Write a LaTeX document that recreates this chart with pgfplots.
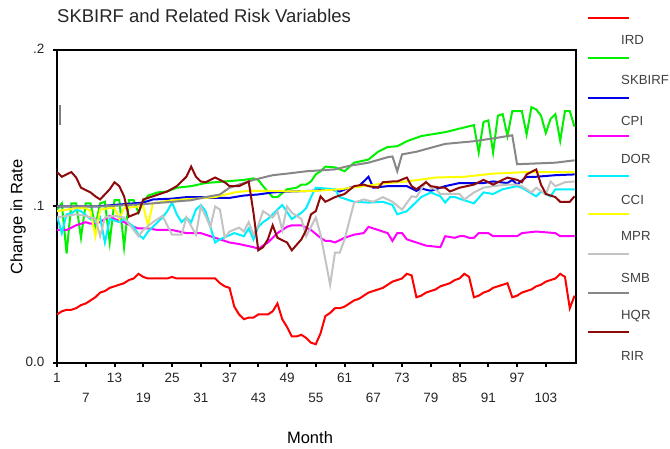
\documentclass[border=0pt]{standalone}
\usepackage{pgfplots}
\pgfplotsset{compat=1.18}
\usepackage{fontspec}
\setmainfont{Liberation Sans}
\definecolor{cIRD}{RGB}{255,0,0}
\definecolor{cSKB}{RGB}{0,240,0}
\definecolor{cCPI}{RGB}{0,0,230}
\definecolor{cDOR}{RGB}{255,0,255}
\definecolor{cCCI}{RGB}{0,240,255}
\definecolor{cMPR}{RGB}{255,255,0}
\definecolor{cSMB}{RGB}{195,195,195}
\definecolor{cHQR}{RGB}{135,135,135}
\definecolor{cRIR}{RGB}{140,10,10}

\begin{document}
\begin{tikzpicture}
\useasboundingbox (0,0) rectangle (670bp,449bp);
\begin{axis}[
    at={(57bp,86bp)}, anchor=south west,
    width=519bp, height=313bp, scale only axis,
    xmin=1, xmax=109.3, ymin=0, ymax=0.2,
    axis line style={line width=1.8bp},
    tick pos=left, tick align=outside,
    major tick length=4bp,
    every tick/.style={black, line width=2bp},
    xtick={1,13,25,37,49,61,73,85,97},
    xticklabels={1,13,25,37,49,61,73,85,97},
    extra x ticks={7,19,31,43,55,67,79,91,103},
    extra x tick labels={7,19,31,43,55,67,79,91,103},
    extra x tick style={xticklabel style={yshift=-20bp}},
    xticklabel style={yshift=-3bp},
    ytick={0,0.1,0.2},
    yticklabels={0.0,.1,.2},
    yticklabel style={xshift=-5bp, yshift=1bp},
    /pgf/number format/assume math mode=true,
    ticklabel style={font=\fontsize{13.5bp}{15bp}\selectfont, text=black!85},
    every axis plot/.append style={line width=2bp, mark=none},
]
% IRD
\addplot[cIRD] coordinates {
(1,.031)(2,.033)(3,.034)(4,.034)(5,.035)(6,.037)(7,.038)(8,.040)(9,.042)(10,.045)
(11,.046)(12,.048)(13,.049)(14,.050)(15,.051)(16,.053)(17,.054)(18,.057)(19,.055)(20,.054)
(21,.054)(22,.054)(23,.054)(24,.054)(25,.055)(26,.054)(27,.054)(28,.054)(29,.054)(30,.054)
(31,.054)(32,.054)(33,.054)(34,.054)(35,.051)(36,.049)(37,.048)(38,.036)(39,.031)(40,.028)
(41,.029)(42,.029)(43,.031)(44,.031)(45,.031)(46,.033)(47,.038)(48,.028)(49,.023)(50,.017)
(51,.017)(52,.018)(53,.016)(54,.013)(55,.012)(56,.019)(57,.030)(58,.032)(59,.035)(60,.035)
(61,.036)(62,.038)(63,.040)(64,.041)(65,.043)(66,.045)(67,.046)(68,.047)(69,.048)(70,.050)
(71,.052)(72,.053)(73,.054)(74,.057)(75,.056)(76,.042)(77,.043)(78,.045)(79,.046)(80,.047)
(81,.049)(82,.050)(83,.051)(84,.053)(85,.054)(86,.057)(87,.055)(88,.042)(89,.043)(90,.045)
(91,.046)(92,.048)(93,.049)(94,.050)(95,.051)(96,.042)(97,.043)(98,.045)(99,.046)(100,.047)
(101,.049)(102,.050)(103,.052)(104,.053)(105,.054)(106,.057)(107,.055)(108,.035)(109,.043)
};
% SKBIRF
\addplot[cSKB] coordinates {
(1,.098)(2,.102)(3,.070)(4,.102)(5,.102)(6,.080)(7,.102)(8,.102)(9,.087)(10,.102)
(11,.103)(12,.077)(13,.104)(14,.104)(15,.074)(16,.104)(17,.104)(18,.096)(19,.103)(20,.107)
(22,.109)(24,.1096)(26,.112)(29,.113)(32,.115)(36,.116)(40,.117)(42,.118)(43,.117)(44,.113)
(46,.106)(47,.106)(49,.111)(51,.112)(52,.114)(53,.114)(54,.116)(55,.1205)(56,.1225)(57,.1255)
(59,.125)(61,.1225)(63,.128)(66,.130)(68,.135)(70,.138)(72,.1385)(74,.1417)(77,.145)(79,.146)
(82,.1475)(84,.149)(86,.1505)(88,.152)(89,.1345)(90,.154)(91,.155)(92,.1345)(93,.158)(94,.159)
(95,.145)(96,.161)(98,.161)(99,.146)(100,.1635)(101,.162)(102,.158)(103,.147)(104,.156)(105,.159)
(106,.142)(107,.161)(108,.161)(109,.151)
};
% CPI
\addplot[cCPI] coordinates {
(1,.100)(9,.100)(13,.101)(19,.1025)(21,.1045)(25,.105)(28,.106)(31,.106)(33,.1055)(37,.1055)
(40,.107)(43,.1077)(46,.109)(49,.1095)(54,.110)(58,.111)(60,.1096)(62,.112)(64,.113)(66,.119)
(67,.112)(70,.113)(74,.113)(76,.110)(77,.1115)(79,.110)(82,.113)(85,.115)(90,.115)(92,.116)
(95,.115)(96,.117)(97,.114)(99,.119)(101,.119)(105,.120)(109,.1205)
};
% DOR
\addplot[cDOR] coordinates {
(1,.085)(3,.085)(5,.088)(7,.090)(8,.089)(10,.090)(12,.094)(13,.092)(15,.090)(17,.087)
(18,.086)(20,.086)(22,.085)(25,.085)(28,.083)(31,.083)(33,.081)(36,.078)(37,.077)(39,.076)
(42,.074)(43,.073)(44,.075)(45,.077)(47,.083)(49,.087)(50,.088)(52,.088)(54,.085)(56,.080)
(57,.078)(58,.078)(59,.077)(61,.080)(63,.082)(65,.083)(66,.087)(67,.086)(69,.084)(70,.083)
(71,.078)(72,.083)(73,.083)(74,.079)(76,.077)(78,.075)(81,.074)(82,.081)(84,.080)(85,.081)
(86,.081)(87,.080)(88,.080)(89,.083)(91,.083)(92,.081)(97,.081)(98,.083)(101,.084)(105,.083)
(106,.081)(109,.081)
};
% CCI
\addplot[cCCI] coordinates {
(1,.094)(2,.083)(3,.095)(4,.0955)(5,.098)(6,.097)(8,.092)(9,.090)(10,.093)(11,.077)
(12,.092)(13,.091)(14,.090)(15,.092)(17,.087)(18,.082)(19,.0795)(20,.084)(22,.090)(23,.093)
(24,.097)(25,.1025)(26,.095)(27,.090)(28,.093)(29,.090)(30,.098)(31,.101)(32,.097)(33,.087)
(34,.077)(35,.079)(38,.083)(40,.081)(41,.086)(42,.079)(43,.087)(44,.090)(45,.092)(46,.095)
(48,.101)(50,.092)(52,.096)(53,.099)(54,.106)(55,.112)(57,.1115)(59,.111)(60,.106)(63,.103)
(66,.1025)(69,.103)(71,.101)(72,.095)(74,.097)(75,.100)(77,.106)(79,.109)(81,.1065)(82,.1025)
(83,.106)(84,.106)(86,.104)(88,.102)(90,.109)(92,.108)(94,.111)(97,.113)(98,.112)(101,.1065)
(102,.1095)(104,.1065)(105,.111)(109,.111)
};
% MPR
\addplot[cMPR] coordinates {
(1,.097)(3,.098)(5,.099)(7,.099)(8,.097)(9,.081)(10,.098)(12,.099)(13,.099)(14,.092)
(15,.099)(18,.100)(19,.100)(20,.088)(21,.102)(25,.104)(30,.105)(34,.106)(38,.109)(41,.110)
(45,.110)(50,.1096)(55,.110)(60,.111)(65,.113)(70,.115)(74,.116)(80,.1185)(86,.119)(92,.121)
(99,.122)(109,.122)
};
% SMB
\addplot[cSMB] coordinates {
(1,.093)(3,.094)(5,.095)(7,.094)(9,.092)(10,.081)(11,.093)(13,.094)(15,.093)(18,.081)
(19,.085)(21,.090)(23,.094)(25,.082)(27,.082)(28,.093)(30,.082)(31,.100)(32,.094)(33,.087)
(34,.100)(35,.098)(36,.080)(37,.084)(39,.0865)(40,.084)(41,.090)(42,.082)(43,.088)(44,.097)
(45,.095)(46,.093)(47,.097)(48,.085)(49,.100)(50,.096)(51,.094)(52,.092)(53,.081)(55,.093)
(56,.082)(58,.050)(59,.0705)(60,.0705)(61,.079)(63,.1025)(65,.1045)(67,.103)(69,.106)(71,.103)
(73,.098)(75,.1065)(76,.106)(78,.116)(79,.112)(80,.111)(81,.108)(83,.108)(85,.108)(86,.1045)
(88,.109)(90,.112)(92,.113)(95,.114)(97,.114)(98,.113)(100,.109)(101,.112)(103,.1077)(104,.116)
(105,.113)(107,.1155)(109,.116)
};
% HQR
\addplot[cHQR] coordinates {
(1,.100)(10,.100)(19,.1015)(25,.103)(29,.104)(32,.106)(35,.1077)(37,.112)(42,.117)(46,.120)
(49,.121)(53,.1225)(59,.1237)(62,.126)(66,.128)(70,.1315)(71,.132)(72,.1225)(73,.1333)(76,.135)
(82,.140)(88,.1417)(92,.1435)(96,.1455)(97,.127)(101,.1275)(105,.128)(109,.1295)
};
% RIR
\addplot[cRIR] coordinates {
(1,.122)(2,.119)(4,.122)(5,.1185)(6,.112)(8,.109)(9,.1065)(10,.1045)(12,.111)(13,.1155)
(14,.113)(15,.1065)(16,.0935)(18,.096)(19,.1045)(21,.1065)(24,.1096)(26,.113)(28,.119)(29,.1255)
(30,.119)(31,.116)(32,.1155)(33,.117)(34,.1185)(36,.1155)(37,.113)(39,.113)(41,.116)(42,.096)
(43,.072)(44,.074)(45,.079)(46,.088)(47,.080)(49,.077)(50,.072)(51,.0755)(52,.079)(53,.085)
(54,.095)(55,.097)(56,.1065)(57,.103)(59,.106)(61,.108)(63,.113)(65,.114)(66,.113)(68,.112)
(69,.1155)(71,.116)(72,.116)(74,.1185)(75,.113)(76,.111)(78,.1155)(79,.113)(81,.112)(82,.112)
(83,.1096)(85,.112)(88,.114)(90,.117)(92,.114)(95,.1185)(97,.117)(98,.1155)(99,.1205)(101,.1237)
(102,.114)(103,.108)(105,.106)(106,.103)(108,.103)(109,.1065)
};
\end{axis}

% stray mark near the top of the y axis
\draw[gray, line width=2bp] (60bp,344bp) -- (60bp,324bp);

% title and axis labels
\node[anchor=west, inner sep=0pt, font=\fontsize{18.5bp}{21bp}\selectfont, text=black!85]
  at (57bp,433bp) {SKBIRF and Related Risk Variables};
\node[rotate=90, inner sep=0pt, font=\fontsize{16.5bp}{19bp}\selectfont]
  at (18bp,232bp) {Change in Rate};
\node[inner sep=0pt, font=\fontsize{16.5bp}{19bp}\selectfont]
  at (310bp,11bp) {Month};

% legend (lines sit above their labels, as in the source)
\begin{scope}[line width=2bp]
\draw[cIRD] (588bp,431bp) -- (629bp,431bp);
\draw[cSKB] (588bp,391bp) -- (629bp,391bp);
\draw[cCPI] (588bp,351bp) -- (629bp,351bp);
\draw[cDOR] (588bp,313bp) -- (629bp,313bp);
\draw[cCCI] (588bp,273bp) -- (629bp,273bp);
\draw[cMPR] (588bp,235bp) -- (629bp,235bp);
\draw[cSMB] (588bp,195bp) -- (629bp,195bp);
\draw[cHQR] (588bp,156bp) -- (629bp,156bp);
\draw[cRIR] (588bp,117bp) -- (629bp,117bp);
\end{scope}
\begin{scope}[every node/.style={anchor=west, inner sep=0pt, text=black!75,
    font=\fontsize{13.2bp}{15bp}\selectfont}]
\node at (621bp,409bp) {IRD};
\node at (621bp,369bp) {SKBIRF};
\node at (621bp,328bp) {CPI};
\node at (621bp,290bp) {DOR};
\node at (621bp,249bp) {CCI};
\node at (621bp,213bp) {MPR};
\node at (621bp,171bp) {SMB};
\node at (621bp,133bp) {HQR};
\node at (621bp,93bp) {RIR};
\end{scope}
\end{tikzpicture}
\end{document}
